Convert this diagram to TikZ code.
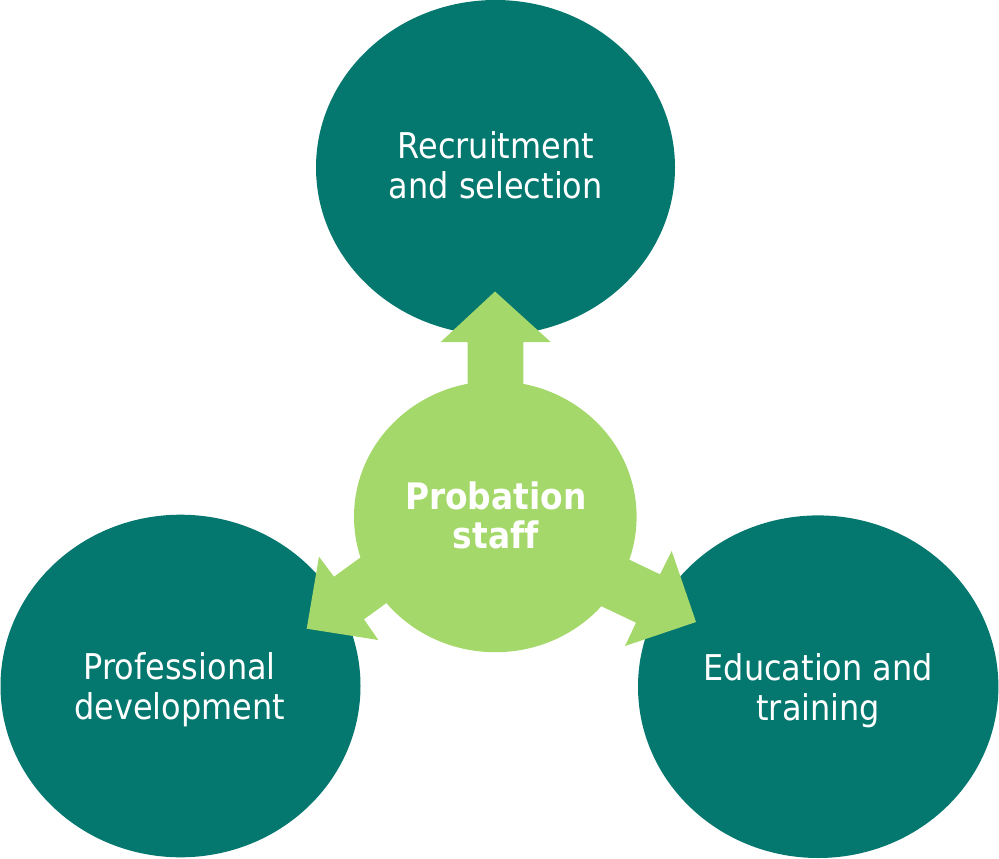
\documentclass[tikz,border=0pt]{standalone}
\usepackage{fontspec}
\usetikzlibrary{shapes.geometric}
\setmainfont{DejaVu Sans}[FakeStretch=0.9,Ligatures=NoCommon]
\definecolor{tealc}{RGB}{4,120,111}
\definecolor{lgreen}{RGB}{165,216,106}
\begin{document}
\begin{tikzpicture}[x=1pt,y=-1pt,
  outer/.style={ellipse, fill=tealc, draw=none, inner sep=0pt},
  hub/.style={ellipse, fill=lgreen, draw=none, inner sep=0pt},
  blockarrow/.style={fill=lgreen, draw=none},
  lbl/.style={text=white, align=center, inner sep=0pt, font=\fontsize{35.5}{39.6}\selectfont},
  hublbl/.style={text=white, align=center, inner sep=0pt, font=\bfseries\fontsize{36.5}{39.4}\selectfont}]
\useasboundingbox (0,0) rectangle (999,859);
\node[outer, minimum width=359pt, minimum height=335pt] (rec) at (495.5,167.5) {};
\node[outer, minimum width=360pt, minimum height=342.6pt] (pro) at (180.5,686) {};
\node[outer, minimum width=360.4pt, minimum height=342.6pt] (edu) at (818.2,686.7) {};
% block arrows
\fill[blockarrow] (467.7,420) -- (467.7,342) -- (440.7,342) -- (495,291.5) -- (550.7,342) -- (523.3,342) -- (523.3,420) -- cycle;
\fill[blockarrow] (398.8,529.7) -- (334,576.7) -- (319,556.7) -- (306.7,628.7) -- (378.3,640) -- (364,619.3) -- (428.8,572.3) -- cycle;
\fill[blockarrow] (587.8,539.9) -- (660,574.3) -- (671.7,551) -- (696,622) -- (625,646) -- (636,622.7) -- (563.8,588.3) -- cycle;
\node[hub, minimum width=282.6pt, minimum height=271pt] (hubc) at (495.3,516.7) {};
% labels
\node[lbl] (rect) at (495.8,165.5) {Recruitment\\and selection};
\node[lbl] (prot) at (179.7,689.4) {Professional\\development};
\node[lbl] (edut) at (818.3,690.4) {Education and\\training};
\node[hublbl] (hubt) at (495.8,515.2) {Probation\\staf{}f};
\end{tikzpicture}
\end{document}
